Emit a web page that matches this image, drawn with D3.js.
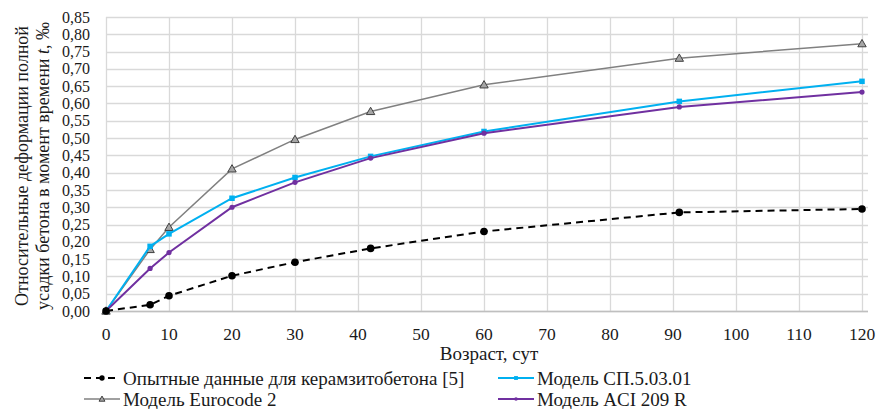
<!DOCTYPE html>
<html>
<head>
<meta charset="utf-8">
<script src="https://cdn.jsdelivr.net/npm/d3@7"></script>
</head>
<body style="margin:0">
<div id="chart"></div>
<script>
// ages, days
const AGES = [0, 7, 10, 20, 30, 42, 60, 91, 120]
const EXPERIMENT = [0, 0.018, 0.044, 0.102, 0.141, 0.181, 0.230, 0.285, 0.295]
const EUROCODE = [0, 0.178, 0.242, 0.411, 0.496, 0.577, 0.654, 0.731, 0.773]
const SP = [0, 0.187, 0.223, 0.326, 0.386, 0.447, 0.519, 0.606, 0.664]
const ACI = [0, 0.123, 0.169, 0.300, 0.372, 0.442, 0.514, 0.590, 0.633]
const XTICKS = d3.range(0, 121, 10)
const YTICKS = d3.range(0, 0.851, 0.05)

const SERIES = [
  { name: 'Опытные данные для керамзитобетона [5]', values: EXPERIMENT, color: '#000', width: 2, dash: '7,5', marker: 'circle' },
  { name: 'Модель СП.5.03.01', values: SP, color: '#00b0f0', width: 2, dash: null, marker: 'square' },
  { name: 'Модель Eurocode 2', values: EUROCODE, color: '#808080', width: 1.5, dash: null, marker: 'triangle' },
  { name: 'Модель ACI 209 R', values: ACI, color: '#7030a0', width: 2, dash: null, marker: 'dot' },
]
// series drawing order (back to front)
const DRAWORDER = [2, 1, 3, 0]

const width = 877, height = 409
const margin = { left: 106, top: 17 }

const svg = d3.select('#chart').append('svg')
  .attr('width', width).attr('height', height)

// every label goes through here so the serif face is set inline
const label = (sel, size) => sel
  .style('font-family', '"Liberation Serif"')
  .style('font-size', (size || 17) + 'px')
  .style('fill', '#1a1a1a')

const x = d3.scaleLinear().domain([0, 120]).range([margin.left, 862])
const y = d3.scaleLinear().domain([0, 0.85]).range([311, margin.top])

const grid = svg.append('g')
grid.selectAll('line.h').data(YTICKS).enter().append('line')
  .attr('x1', margin.left).attr('x2', 868)
  .attr('y1', d => Math.round(y(d)) + 0.5).attr('y2', d => Math.round(y(d)) + 0.5)
  .attr('stroke', '#d9d9d9').attr('stroke-width', 1.3)
grid.selectAll('line.v').data(XTICKS).enter().append('line')
  .attr('y1', y(0)).attr('y2', y(0.85))
  .attr('x1', d => Math.round(x(d)) + 0.5).attr('x2', d => Math.round(x(d)) + 0.5)
  .attr('stroke', '#d9d9d9').attr('stroke-width', 1.3)
svg.append('line')
  .attr('x1', margin.left).attr('x2', 868)
  .attr('y1', Math.round(y(0)) + 0.5).attr('y2', Math.round(y(0)) + 0.5)
  .attr('stroke', '#bfbfbf').attr('stroke-width', 1.3)

// tick labels
const fmt = d => d3.format('.2f')(d).replace('.', ',')
svg.append('g').selectAll('text').data(YTICKS).enter().append('text')
  .attr('x', 90).attr('y', d => y(d)).attr('dy', '0.35em')
  .attr('text-anchor', 'end')
  .call(label, 16)
  .text(fmt)
svg.append('g').selectAll('text').data(XTICKS).enter().append('text')
  .attr('x', d => x(d)).attr('y', 340)
  .attr('text-anchor', 'middle')
  .call(label, 17.5)
  .text(d => d)

svg.append('text').attr('x', 489).attr('y', 360)
  .attr('text-anchor', 'middle')
  .call(label, 19)
  .text('Возраст, сут')

const ytitle = svg.append('text')
  .attr('transform', 'translate(0,166) rotate(-90)')
  .attr('text-anchor', 'middle')
  .call(label, 18)
ytitle.append('tspan').attr('x', 0).attr('y', 22).attr('dy', '0.35em')
  .text('Относительные деформации полной')
const l2 = ytitle.append('tspan').attr('x', 0).attr('y', 43).attr('dy', '0.35em')
l2.append('tspan').text('усадки бетона в момент времени ')
l2.append('tspan').style('font-style', 'italic').text('t')
l2.append('tspan').text(', ‰')

const drawmarker = (g, type, cx, cy, color, scale) => {
  if (type === 'circle') {
    g.append('circle').attr('cx', cx).attr('cy', cy).attr('r', 3.8 * scale).attr('fill', color)
  } else if (type === 'square') {
    const s = 5.5 * scale
    g.append('rect').attr('x', cx - s / 2).attr('y', cy - s / 2).attr('width', s).attr('height', s).attr('fill', color)
  } else if (type === 'triangle') {
    const s = 4.2 * scale
    g.append('path')
      .attr('d', `M${cx},${cy - s}L${cx + s},${cy + s * 0.75}L${cx - s},${cy + s * 0.75}Z`)
      .attr('fill', '#a6a6a6').attr('stroke', '#404040').attr('stroke-width', 1)
  } else {
    g.append('circle').attr('cx', cx).attr('cy', cy).attr('r', 2.6 * scale).attr('fill', color)
  }
}

const line = d3.line().x(d => x(d[0])).y(d => y(d[1]))
DRAWORDER.forEach(i => {
  const s = SERIES[i]
  const pts = AGES.map((a, j) => [a, s.values[j]])
  const g = svg.append('g')
  g.append('path').attr('d', line(pts))
    .attr('fill', 'none').attr('stroke', s.color).attr('stroke-width', s.width)
    .attr('stroke-dasharray', s.dash)
  pts.forEach(p => drawmarker(g, s.marker, x(p[0]), y(p[1]), s.color, 1))
})

// legend
const legendpos = [[84, 378], [498, 378], [84, 399], [498, 399]]
SERIES.forEach((s, i) => {
  const [lx, ly] = legendpos[i]
  const g = svg.append('g')
  g.append('line').attr('x1', lx).attr('x2', lx + 36).attr('y1', ly).attr('y2', ly)
    .attr('stroke', s.color).attr('stroke-width', s.width)
    .attr('stroke-dasharray', s.dash ? '7,5' : null)
  drawmarker(g, s.marker, lx + 18, ly, s.color, 0.7)
  g.append('text').attr('x', lx + 39).attr('y', ly).attr('dy', '0.35em')
    .call(label, 19)
    .text(s.name)
})
</script>
</body>
</html>
